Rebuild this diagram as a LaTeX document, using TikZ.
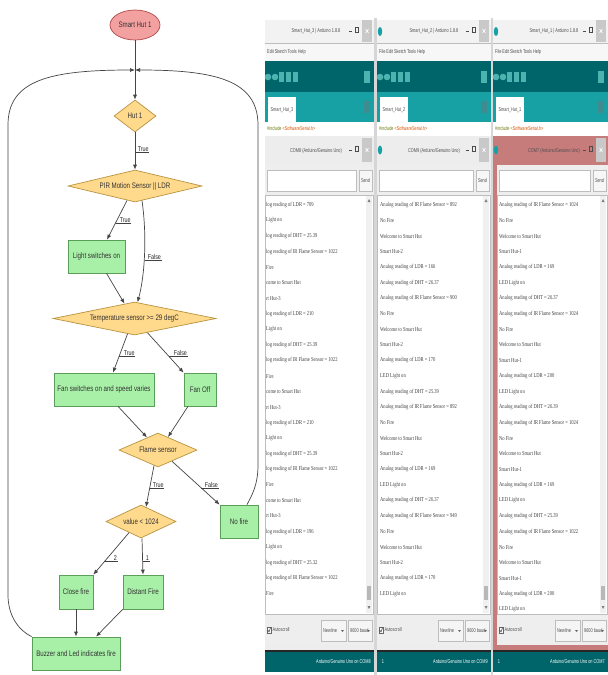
\documentclass[tikz,border=0pt]{standalone}
\usepackage{fontspec}
\setmainfont{Liberation Sans}
\newfontfamily\flowfont[FakeStretch=0.77]{Liberation Sans}
\newfontfamily\uifont[FakeStretch=0.7]{Liberation Sans}
\newfontfamily\monfont[FakeStretch=0.76]{Liberation Serif}
\usetikzlibrary{shapes.geometric,arrows.meta,calc}
\definecolor{boxfill}{HTML}{A8F0A8}
\definecolor{boxdraw}{HTML}{5A9E5A}
\definecolor{decfill}{HTML}{FFD98C}
\definecolor{decdraw}{HTML}{B89440}
\definecolor{startfill}{HTML}{F2A0A0}
\definecolor{startdraw}{HTML}{B04A4A}
\definecolor{flowline}{HTML}{454545}
\definecolor{tealdark}{HTML}{00656A}
\definecolor{teallight}{HTML}{17A1A5}
\definecolor{tealicon}{HTML}{4DB3B0}
\definecolor{pinkframe}{HTML}{C77C7C}
\definecolor{wintitle}{HTML}{F2F2F2}
\definecolor{menugrey}{HTML}{F7F7F7}
\definecolor{sertitle}{HTML}{EDEDED}
\definecolor{panelgrey}{HTML}{EEEEEE}
\definecolor{edgegrey}{HTML}{BDBDBD}
\definecolor{gapgrey}{HTML}{D6D6D6}
\definecolor{closegrey}{HTML}{C9C9C9}
\definecolor{kwolive}{HTML}{6E7A12}
\definecolor{kworange}{HTML}{D35400}

\tikzset{
  proc/.style={rectangle, draw=boxdraw, fill=boxfill, line width=0.7pt,
    font=\flowfont\fontsize{8}{9}\selectfont, text=black!80, inner sep=1pt, align=center},
  dec/.style={diamond, draw=decdraw, fill=decfill, line width=0.7pt,
    font=\flowfont\fontsize{8}{9}\selectfont, text=black!80, inner sep=0pt},
  startnode/.style={ellipse, draw=startdraw, fill=startfill, line width=0.7pt,
    font=\flowfont\fontsize{8}{9}\selectfont, text=black!80, inner sep=0pt,
    minimum width=50pt, minimum height=30pt},
  plain/.style={draw=flowline, line width=0.7pt},
  conn/.style={plain, -{Latex[length=5pt,width=4pt]}},
  lbl/.style={font=\flowfont\fontsize{7}{8}\selectfont, inner sep=0.6pt, text=black!85, anchor=west},
  uline/.style={draw=black!75, line width=0.5pt},
  serial/.style={font=\monfont\fontsize{6}{6}\selectfont, anchor=west, inner sep=0pt, text=black!75},
  ui/.style={font=\uifont\fontsize{5.5}{6}\selectfont, inner sep=0pt, text=black!70},
  uiw/.style={ui, text=white},
  icon/.style={fill=tealicon},
  xmark/.style={draw=white, line width=0.6pt},
}

% #1 L, #2 R, #3 title centre, #4 hut, #5 com, #6 menu text, #7 serial frame colour, #8 inset
\newcommand{\ardwin}[8]{%
  \fill[wintitle] (#1,20) rectangle (#2,43);
  \node[ui] (title#4) at (#3,31.5) {Smart\_Hut\_#4 | Arduino 1.8.8};
  \draw[black!70, line width=0.5pt] ({#2-25},31) -- ({#2-22},31);
  \draw[black!70, line width=0.5pt] ({#2-19},27) rectangle ({#2-15.5},32);
  \fill[closegrey] ({#2-12},20) rectangle ({#2-2},42);
  \draw[xmark] ({#2-8.5},29) -- ({#2-5.5},33) ({#2-8.5},33) -- ({#2-5.5},29);
  \fill[menugrey] (#1,43) rectangle (#2,61);
  \draw[edgegrey, line width=0.4pt] (#1,43) -- (#2,43) (#1,61) -- (#2,61);
  \node[ui, anchor=west] (menu#4) at ({#1+2},52) {#6};
  \fill[tealdark] (#1,61) rectangle (#2,92);
  \fill[icon] ({#1+3},77) circle (3.3);
  \fill[icon] ({#1+10},77) circle (3.3);
  \fill[icon] ({#1+14},72) rectangle ({#1+19},82);
  \fill[icon] ({#1+21},72) rectangle ({#1+26},82);
  \fill[icon] ({#1+28},72) rectangle ({#1+33},82);
  \fill[icon] ({#2-10},71) rectangle ({#2-4},83);
  \fill[teallight] (#1,92) rectangle (#2,122);
  \fill[white] ({#1+3},97) rectangle ({#1+31},122);
  \node[ui] (tab#4) at ({#1+17},110) {Smart\_Hut\_#4};
  \fill[tealdark!75!white] ({#2-10},101) rectangle ({#2-4},113);
  \fill[white] (#1,122) rectangle (#2,136);
  \node[ui, anchor=west] (code#4) at ({#1+2},129)
    {\textcolor{kwolive}{\#include} \textcolor{kworange}{<SoftwareSerial.h>}};
  \fill[#7] (#1,136) rectangle (#2,650);
  \node[ui] (com#4) at (#3,151) {COM#5 (Arduino/Genuino Uno)};
  \draw[black!70, line width=0.5pt] ({#2-25},150) -- ({#2-22},150);
  \draw[black!70, line width=0.5pt] ({#2-19},146) rectangle ({#2-15.5},151);
  \fill[closegrey] ({#2-12},138) rectangle ({#2-2},162);
  \draw[xmark] ({#2-8.5},148) -- ({#2-5.5},152) ({#2-8.5},152) -- ({#2-5.5},148);
  \fill[panelgrey] ({#1+#8},165) rectangle (#2,645);
  \draw[edgegrey, fill=white] ({#1+#8+2},170) rectangle ({#2-18},191);
  \draw[edgegrey, fill=black!3] ({#2-15},170) rectangle ({#2-2},191);
  \node[ui] (send#4) at ({#2-8.5},180.5) {Send};
  \draw[edgegrey, fill=white] ({#1+#8},195) rectangle ({#2-1},614);
  \fill[black!6] ({#2-8},196) rectangle ({#2-2},613);
  \fill[black!28] ({#2-7},586) rectangle ({#2-3},600);
  \fill[black!50] ({#2-6.5},202) -- ({#2-3.5},202) -- ({#2-5},199) -- cycle;
  \fill[black!50] ({#2-6.5},606) -- ({#2-3.5},606) -- ({#2-5},609) -- cycle;
  \draw[black!60, fill=white, line width=0.4pt] ({#1+#8+2},627) rectangle ({#1+#8+6},633);
  \draw[black!80, line width=0.5pt] ({#1+#8+2.8},630) -- ({#1+#8+4},632) -- ({#1+#8+5.6},627.5);
  \node[ui, anchor=west] (auto#4) at ({#1+#8+7.5},630) {Autoscroll};
  \draw[edgegrey, fill=black!4] ({#2-53},620) rectangle ({#2-28},641);
  \node[ui, anchor=west] (nl#4) at ({#2-51},630.5) {Newline};
  \fill[black!60] ({#2-33},630) -- ({#2-30},630) -- ({#2-31.5},632) -- cycle;
  \draw[edgegrey, fill=black!4] ({#2-26},620) rectangle ({#2-2},641);
  \node[ui, anchor=west] (baud#4) at ({#2-24},630.5) {9600 baud};
  \fill[black!60] ({#2-7},630) -- ({#2-4},630) -- ({#2-5.5},632) -- cycle;
  \fill[black!85] (#1,650) rectangle (#2,652);
  \fill[tealdark] (#1,652) rectangle (#2,672);
  \node[uiw, anchor=east] (status#4) at ({#2-3},662) {Arduino/Genuino Uno on COM#5};
}

\begin{document}
\begin{tikzpicture}[x=1pt,y=-1pt]
\useasboundingbox (0,0) rectangle (608,675);
\fill[white] (0,0) rectangle (608,675);

% ---------------- flowchart ----------------
\node[startnode] (start) at (135,25) {Smart Hut 1};
\coordinate (junc) at (135,70);
\node[dec, shape aspect=1.3, minimum width=42pt, minimum height=32pt] (hut) at (135,116) {Hut 1};
\node[dec, shape aspect=4.2, minimum width=134pt, minimum height=32pt] (pir) at (135,186) {PIR Motion Sensor || LDR};
\node[proc, minimum width=57pt, minimum height=33pt] (light) at (96.5,256.5) {Light switches on};
\node[dec, shape aspect=4.9, minimum width=163pt, minimum height=33pt] (temp) at (134.5,318.5) {Temperature sensor >= 29 degC};
\node[proc, minimum width=100pt, minimum height=33pt] (fan) at (104,389.5) {Fan switches on and speed varies};
\node[proc, minimum width=32pt, minimum height=33pt] (fanoff) at (200,389.5) {Fan Off};
\node[dec, shape aspect=2.3, minimum width=78pt, minimum height=34pt] (flame) at (158,450) {Flame sensor};
\node[dec, shape aspect=2.1, minimum width=70pt, minimum height=33pt] (value) at (141,521.5) {value < 1024};
\node[proc, minimum width=38pt, minimum height=33pt] (nofire) at (239,521.5) {No fire};
\node[proc, minimum width=34pt, minimum height=34pt] (close) at (76,592) {Close fire};
\node[proc, minimum width=40pt, minimum height=34pt] (distant) at (143,592) {Distant Fire};
\node[proc, minimum width=88pt, minimum height=33pt] (buzz) at (76,653.5) {Buzzer and Led indicates fire};

\draw[plain] (start) -- (junc);
\draw[conn] (junc) -- (hut);
\draw[conn] (hut) -- (pir);
\draw[conn] ($(pir.south)+(-8,-1.9)$) -- ($(light.north)+(10.5,0)$);
\draw[conn] ($(pir.south)+(7,-1.7)$) .. controls (147,235) and (145,275) .. ($(temp.north)+(3,0.6)$);
\draw[conn] ($(light.south)+(10,0)$) -- ($(temp.north)+(-10,2)$);
\draw[conn] ($(temp.south)+(-7,-1.4)$) -- ($(fan.north)+(9,0)$);
\draw[conn] ($(temp.south)+(13,-2.6)$) -- (fanoff.north west);
\draw[conn] ($(fan.south)+(14,0)$) -- ($(flame.north)+(-11,4.8)$);
\draw[conn] ($(fanoff.south)+(-12,0)$) -- ($(flame.north)+(10,4.4)$);
\draw[conn] ($(flame.south)+(-4,-1.7)$) -- ($(value.north)+(5,2.4)$);
\draw[conn] ($(flame.south)+(14,-6.1)$) -- (nofire.north west);
\draw[conn] ($(value.south)+(-12,-5.7)$) -- (close.north east);
\draw[conn] ($(value.south)+(1,0)$) -- (distant.north);
\draw[conn] (close.south) -- (buzz.north);
\draw[conn] (distant.south west) -- ($(buzz.north)+(20,0)$);

% loops back to the junction
\draw[conn] (buzz.north west) .. controls (18,630) and (8,615) .. (8,595) -- (8,125)
   .. controls (8,80) and (50,70) .. (junc);
\draw[conn] ($(nofire.north)+(8,0)$) .. controls (252,495) and (258,485) .. (258,465) -- (258,125)
   .. controls (258,80) and (215,70) .. (junc);

% branch labels
\node[lbl] (t1) at (137,149) {True};
\node[lbl] (t2) at (119,220) {True};
\node[lbl] (f1) at (147,257) {False};
\node[lbl] (t3) at (123,353) {True};
\node[lbl] (f2) at (173,353) {False};
\node[lbl] (t4) at (152,485) {True};
\node[lbl] (f3) at (204,485) {False};
\node[lbl] (n2) at (113,558) {2};
\node[lbl] (n1) at (145,558) {1};
\draw[uline] ($(t1.south west)+(-2,0)$) -- (t1.south east);
\draw[uline] ($(t2.south west)+(-3,0)$) -- (t2.south east);
\draw[uline] ($(f1.south west)+(-2,0)$) -- (f1.south east);
\draw[uline] ($(t3.south west)+(-4,0)$) -- (t3.south east);
\draw[uline] ($(f2.south west)+(-4,0)$) -- (f2.south east);
\draw[uline] ($(t4.south west)+(-2,0)$) -- (t4.south east);
\draw[uline] ($(f3.south west)+(-3,0)$) -- (f3.south east);
\draw[uline] ($(n2.south west)+(-9,0)$) -- (n2.south east);
\draw[uline] ($(n1.south west)+(-2,0)$) -- (n1.south east);

% ---------------- Arduino windows ----------------
\begin{scope}
\clip (259,0) rectangle (608,675);
\fill[gapgrey] (374,18) rectangle (377,675);
\fill[gapgrey] (491,18) rectangle (493,675);
\ardwin{265}{374}{316}{3}{8}{Edit Sketch Tools Help}{sertitle}{0}
\ardwin{377}{491}{434}{2}{9}{File Edit Sketch Tools Help}{sertitle}{0}
\ardwin{493}{608}{554}{1}{7}{File Edit Sketch Tools Help}{pinkframe}{4}
\fill[pinkframe] (493,645) rectangle (608,650);
% Arduino logos
\foreach \lx/\k in {380/a, 496/b} {
  \fill[teallight] (\lx,31.5) ellipse (2.2 and 4.5);
  \fill[teallight] (\lx,150) ellipse (2.2 and 4.5);
  \node[uiw] (one\k) at ({\lx+3},662) {1};
}

\foreach \t [count=\i] in {log reading of LDR = 709, Light on, log reading of DHT = 25.39,
  log reading of IR Flame Sensor = 1022, Fire, come to Smart Hut, rt Hut-3,
  log reading of LDR = 210, Light on, log reading of DHT = 25.39,
  log reading of IR Flame Sensor = 1022, Fire, come to Smart Hut, rt Hut-3,
  log reading of LDR = 210, Light on, log reading of DHT = 25.39,
  log reading of IR Flame Sensor = 1022, Fire, come to Smart Hut, rt Hut-3,
  log reading of LDR = 196, Light on, log reading of DHT = 25.32,
  log reading of IR Flame Sensor = 1022, Fire}
  {\node[serial] (sa\i) at (266,{205+15.55*(\i-1)}) {\t};}

\foreach \t [count=\i] in {Analog reading of IR Flame Sensor = 892, No Fire, Welcome to Smart Hut,
  Smart Hut-2, Analog reading of LDR = 166, Analog reading of DHT = 26.37,
  Analog reading of IR Flame Sensor = 900, No Fire, Welcome to Smart Hut, Smart Hut-2,
  Analog reading of LDR = 170, LED Light on, Analog reading of DHT = 25.39,
  Analog reading of IR Flame Sensor = 892, No Fire, Welcome to Smart Hut, Smart Hut-2,
  Analog reading of LDR = 169, LED Light on, Analog reading of DHT = 26.37,
  Analog reading of IR Flame Sensor = 949, No Fire, Welcome to Smart Hut, Smart Hut-2,
  Analog reading of LDR = 170, LED Light on}
  {\node[serial] (sb\i) at (380,{205+15.55*(\i-1)}) {\t};}

\foreach \t [count=\i] in {Analog reading of IR Flame Sensor = 1024, No Fire, Welcome to Smart Hut,
  Smart Hut-1, Analog reading of LDR = 169, LED Light on, Analog reading of DHT = 26.37,
  Analog reading of IR Flame Sensor = 1024, No Fire, Welcome to Smart Hut, Smart Hut-1,
  Analog reading of LDR = 200, LED Light on, Analog reading of DHT = 26.39,
  Analog reading of IR Flame Sensor = 1024, No Fire, Welcome to Smart Hut, Smart Hut-1,
  Analog reading of LDR = 169, LED Light on, Analog reading of DHT = 25.39,
  Analog reading of IR Flame Sensor = 1022, No Fire, Welcome to Smart Hut, Smart Hut-1,
  Analog reading of LDR = 200, LED Light on}
  {\node[serial] (sc\i) at (499,{205+15.55*(\i-1)}) {\t};}
\end{scope}
\end{tikzpicture}
\end{document}
